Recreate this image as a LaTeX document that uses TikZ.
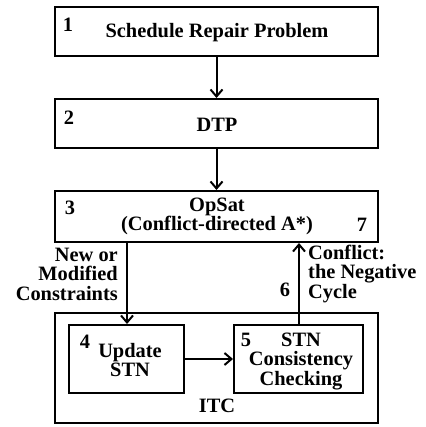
\documentclass[tikz,border=0pt]{standalone}
\usepackage{fontspec}
\setmainfont{Liberation Serif}
\usetikzlibrary{arrows.meta}
\begin{document}
\begin{tikzpicture}[x=1pt,y=1pt,
  box/.style={draw,line width=2pt,inner sep=0pt},
  txt/.style={inner sep=0pt,font=\bfseries\fontsize{20.4}{19.5}\selectfont,align=center},
  arr/.style={line width=2pt,-{Straight Barb[length=7pt,width=12pt]}}]
\useasboundingbox (0,0) rectangle (425,-427);
\fill[white] (0,0) rectangle (425,-427);
% boxes (centres)
\node[box,minimum width=323pt,minimum height=49pt] (b1) at (216.5,-31.5) {};
\node[box,minimum width=323pt,minimum height=49pt] (b2) at (216.5,-123.5) {};
\node[box,minimum width=323pt,minimum height=51pt] (b3) at (216.5,-216.5) {};
\node[box,minimum width=323pt,minimum height=110pt] (itc) at (216.5,-368) {};
\node[box,minimum width=115pt,minimum height=68pt] (b4) at (126.5,-359) {};
\node[box,minimum width=129pt,minimum height=68pt] (b5) at (298.5,-359) {};
% texts
\node[txt] (t1n) at (68,-25) {1};
\node[txt] (t1) at (217,-33) {Schedule Repair Problem};
\node[txt] (t2n) at (69,-118) {2};
\node[txt] (t2) at (217,-125) {DTP};
\node[txt] (t3n) at (70,-208) {3};
\node[txt] (t3a) at (217,-207) {OpSat};
\node[txt] (t3b) at (217,-225) {(Conflict-directed A*)};
\node[txt] (t7) at (362,-225) {7};
\node[txt,align=right,anchor=east] (lbl1) at (118,-274) {New or\\Modified\\Constraints};
\node[txt,align=left,anchor=west] (lbl2) at (308,-274) {Conflict:\\the Negative\\Cycle};
\node[txt] (t6) at (285,-290) {6};
\node[txt] (t4n) at (85,-342) {4};
\node[txt] (t4) at (130,-360) {Update\\STN};
\node[txt] (t5n) at (246,-340) {5};
\node[txt] (t5) at (301,-361) {STN\\Consistency\\Checking};
\node[txt] (titc) at (217,-406) {ITC};
% connectors
\coordinate (xl) at (127,0);
\coordinate (xr) at (299,0);
\draw[arr] (b1.south) -- (b2.north);
\draw[arr] (b2.south) -- (b3.north);
\draw[arr] (b3.south -| xl) -- (b4.north -| xl);
\draw[arr] (b5.north -| xr) -- (b3.south -| xr);
\draw[arr] (b4.east) -- (b4.east -| b5.west);
\end{tikzpicture}
\end{document}
